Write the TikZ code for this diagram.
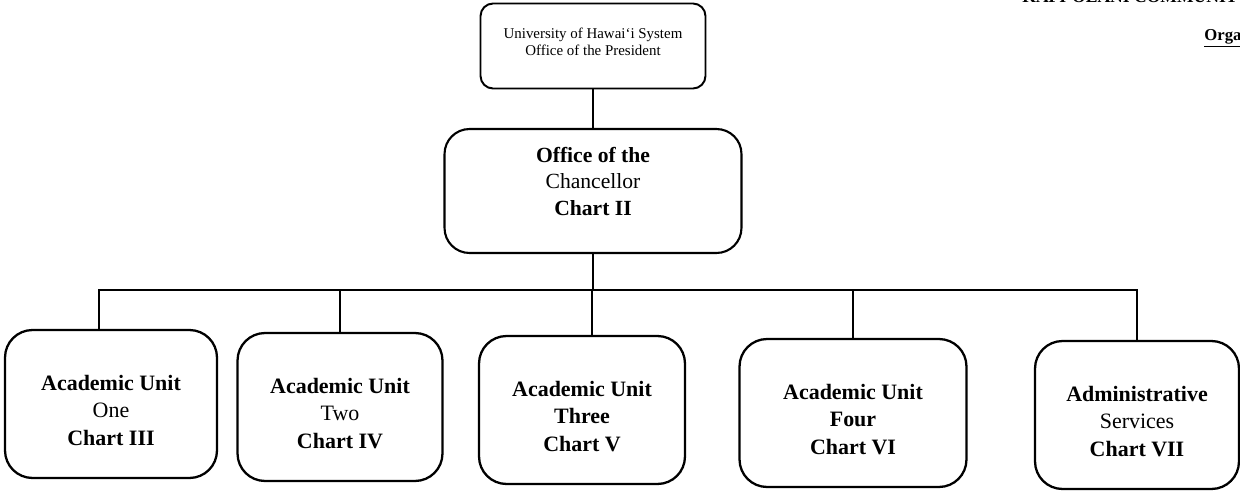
\documentclass[tikz,border=0pt]{standalone}
\usepackage{fontspec}
\setmainfont{Liberation Serif}
\usetikzlibrary{positioning}

\begin{document}
\begin{tikzpicture}[x=0.02cm, y=-0.02cm,
    presbox/.style={draw, line width=1.1pt, rounded corners=0.25cm,
        minimum width=4.5cm, minimum height=1.7cm, align=center,
        font=\fontsize{8.5}{10}\selectfont, text depth=5pt},
    chanbox/.style={draw, line width=1.2pt, rounded corners=0.5cm,
        minimum width=5.94cm, minimum height=2.48cm, align=center,
        font=\bfseries\fontsize{12.3}{15}\selectfont, text depth=11pt},
    unitbox/.style={draw, line width=1.3pt, rounded corners=0.55cm,
        minimum height=2.96cm, align=center,
        font=\bfseries\fontsize{12.5}{15.5}\selectfont},
    link/.style={line width=1pt}]
    \useasboundingbox (0,0) rectangle (1240,490);

    % Header (cut off at the page edge)
    \begin{scope}
    \clip (0,0) rectangle (1240,490);
    \node[anchor=base west, inner sep=0pt, font=\bfseries\fontsize{10}{12}\selectfont] (college) at (1022,3) {KAPI`OLANI COMMUNITY COLLEGE};
    \node[anchor=base west, inner sep=0pt, font=\bfseries\fontsize{9.5}{11}\selectfont] (orgtitle) at (1204,40) {\underline{Organization}};
    \end{scope}

    % Nodes
    \node[presbox] (pres) at (593,46) {University of Hawai`i System\\Office of the President};
    \node[chanbox] (chan) at (593,191) {Office of the\\{\mdseries Chancellor}\\Chart II};

    \node[unitbox, minimum width=4.24cm] (u1) at (111,404) {\rule{0pt}{16pt}Academic Unit\\{\mdseries One}\\Chart III};
    \node[unitbox, minimum width=4.1cm] (u2) at (340,407) {\rule{0pt}{16pt}Academic Unit\\{\mdseries Two}\\Chart IV};
    \node[unitbox, minimum width=4.12cm] (u3) at (582,410) {\rule{0pt}{16pt}Academic Unit\\Three\\Chart V};
    \node[unitbox, minimum width=4.54cm] (u4) at (853,413) {\rule{0pt}{16pt}Academic Unit\\Four\\Chart VI};
    \node[unitbox, minimum width=4.08cm] (u5) at (1137,415) {\rule{0pt}{16pt}Administrative\\{\mdseries Services}\\Chart VII};

    % Lines
    \coordinate (bus) at (593,290);
    \draw[link] (pres) -- (chan);
    \draw[link] (chan) -- (bus);
    \draw[link] (bus) -| ([xshift=-0.24cm]u1.north);
    \draw[link] (bus) -| ([xshift=0.2cm]u3.north);
    \foreach \u in {u2,u4,u5}
        \draw[link] (bus) -| (\u.north);
\end{tikzpicture}
\end{document}
